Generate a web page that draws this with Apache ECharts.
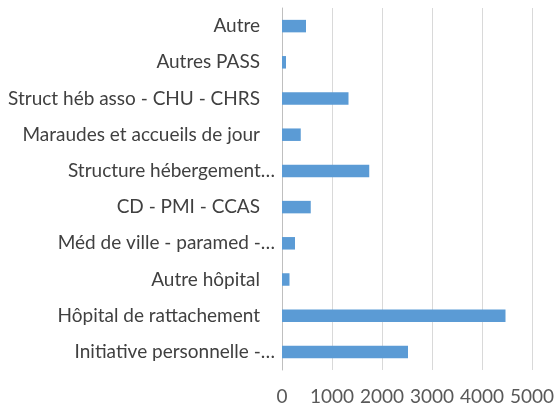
<!DOCTYPE html>
<html>
<head>
<meta charset="utf-8">
<script src="https://cdn.jsdelivr.net/npm/echarts@6/dist/echarts.min.js"></script>
<style>
html, body { margin: 0; padding: 0; background: #fff; }
#chart { width: 558px; height: 408px; }
</style>
</head>
<body>
<div id="chart"></div>
<script>
// catégories (de bas en haut) et effectifs
var categories = [
    'Initiative personnelle -…',
    'Hôpital de rattachement',
    'Autre hôpital',
    'Méd de ville - paramed -…',
    'CD - PMI - CCAS',
    'Structure hébergement…',
    'Maraudes et accueils de jour',
    'Struct héb asso - CHU - CHRS',
    'Autres PASS',
    'Autre'
];
var values = [2520, 4470, 150, 260, 575, 1745, 375, 1330, 80, 480];
var xTicks = [0, 1000, 2000, 3000, 4000, 5000];

var chart = echarts.init(document.getElementById('chart'));

chart.setOption({
    animation: false,
    grid: {
        left: 282,
        right: 26,
        top: 8,
        bottom: 38
    },
    xAxis: {
        type: 'value',
        min: xTicks[0],
        max: xTicks[xTicks.length - 1],
        interval: 1000,
        axisLine: { show: false },
        axisTick: { show: false },
        splitLine: { lineStyle: { color: '#d9d9d9', width: 1 } },
        axisLabel: {
            margin: 17,
            color: '#595959',
            fontFamily: 'Lato',
            fontSize: 19,
            formatter: function (v) { return String(v); }
        }
    },
    yAxis: {
        type: 'category',
        data: categories,
        axisLine: { lineStyle: { color: '#bfbfbf' } },
        axisTick: { show: false },
        axisLabel: {
            margin: 7,
            color: '#404040',
            fontFamily: 'Lato',
            fontSize: 19,
            formatter: function (v) {
                // les libellés tronqués vont jusqu'au bord
                return v.slice(-1) === '…' ? v : '{p|' + v + '}';
            },
            rich: {
                p: {
                    padding: [0, 15, 0, 0],
                    color: '#404040',
                    fontFamily: 'Lato',
                    fontSize: 19
                }
            }
        }
    },
    series: [{
        type: 'bar',
        data: values,
        barWidth: 12.5,
        itemStyle: { color: '#5b9bd5' }
    }]
});
</script>
</body>
</html>
